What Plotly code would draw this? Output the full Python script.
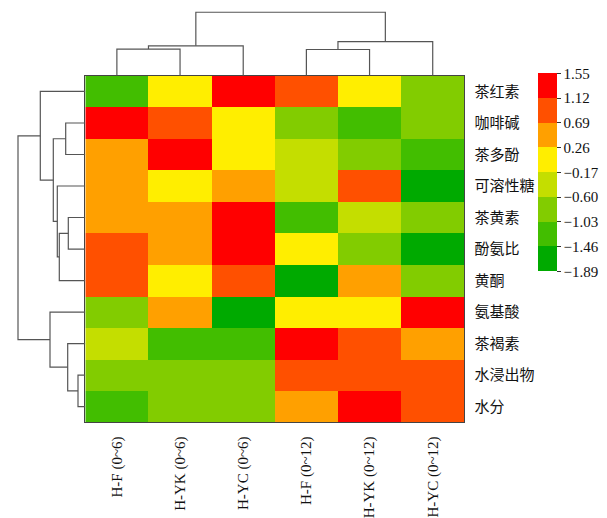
import plotly.graph_objects as go

# Samples (columns) and quality indicators (rows), in displayed order
samples = ["H-F (0~6)", "H-YK (0~6)", "H-YC (0~6)", "H-F (0~12)", "H-YK (0~12)", "H-YC (0~12)"]
indicators = ["茶红素", "咖啡碱", "茶多酚", "可溶性糖", "茶黄素", "酚氨比", "黄酮",
              "氨基酸", "茶褐素", "水浸出物", "水分"]

# Standardised values (rows = indicators, columns = samples)
z_values = [
    [-1.25, 0.05, 1.35, 0.90, 0.10, -0.80],
    [1.40, 0.95, 0.05, -0.85, -1.20, -0.80],
    [0.50, 1.30, 0.00, -0.40, -0.85, -1.25],
    [0.45, 0.05, 0.55, -0.40, 0.90, -1.65],
    [0.50, 0.45, 1.40, -1.20, -0.35, -0.85],
    [0.90, 0.50, 1.35, 0.05, -0.80, -1.70],
    [0.95, 0.10, 0.90, -1.70, 0.50, -0.80],
    [-0.80, 0.50, -1.70, 0.05, 0.10, 1.40],
    [-0.35, -1.20, -1.25, 1.35, 0.95, 0.50],
    [-0.80, -0.85, -0.80, 0.90, 0.95, 0.90],
    [-1.25, -0.80, -0.85, 0.50, 1.35, 0.90],
]

# Colour classes of the legend
bin_edges = [-1.89, -1.46, -1.03, -0.60, -0.17, 0.26, 0.69, 1.12, 1.55]
bin_colors = ["#00AA00", "#42BE00", "#82CC00", "#C4DE00", "#FFEE00", "#FFA000", "#FF5000", "#FF0000"]
edge_labels = ["−1.89", "−1.46", "−1.03", "−0.60", "−0.17", "0.26", "0.69", "1.12", "1.55"]

# Hierarchical clustering results: (child_a, child_b, distance); ids >= n are merged clusters
col_linkage = [(0, 1, 2.67), (6, 2, 3.00), (3, 4, 2.63), (8, 5, 3.43), (7, 9, 6.37)]
row_linkage = [(1, 2, 1.96), (4, 5, 1.70), (12, 6, 2.60), (3, 13, 2.80), (11, 14, 3.20),
               (0, 15, 4.50), (9, 10, 0.73), (8, 17, 1.76), (7, 18, 3.53), (16, 19, 6.73)]


def dendro_segments(linkage, n):
    """Return (leaf-axis coords, height coords) of the U-shaped links."""
    pos = {i: float(i) for i in range(n)}
    hgt = {i: 0.0 for i in range(n)}
    p_list, h_list = [], []
    for k, (a, b, d) in enumerate(linkage):
        p_list += [pos[a], pos[a], pos[b], pos[b], None]
        h_list += [hgt[a], d, d, hgt[b], None]
        pos[n + k] = (pos[a] + pos[b]) / 2
        hgt[n + k] = d
    return p_list, h_list


W, H = 607, 518
hm_left, hm_right, hm_top, hm_bottom = 85.3, 464.3, 76.0, 424.0
px_per_unit = 10.0

n_bins = len(bin_colors)
colorscale = []
for i, c in enumerate(bin_colors):
    colorscale.append([i / n_bins, c])
    colorscale.append([(i + 1) / n_bins, c])

fig = go.Figure()

fig.add_trace(go.Heatmap(
    z=z_values,
    x=list(range(len(samples))),
    y=list(range(len(indicators))),
    zmin=bin_edges[0], zmax=bin_edges[-1],
    colorscale=colorscale,
    xaxis="x", yaxis="y",
    colorbar=dict(
        x=538 / W, xanchor="left", xpad=0,
        y=1 - 173 / H, yanchor="middle", ypad=0,
        len=198, lenmode="pixels", thickness=19, thicknessmode="pixels",
        outlinewidth=0,
        tickmode="array", tickvals=bin_edges, ticktext=edge_labels,
        ticks="outside", ticklen=4, tickwidth=1, tickcolor="#333333",
        tickfont=dict(family="Liberation Serif", size=15, color="#111111"),
    ),
    showscale=True,
))

line_style = dict(color="#555555", width=1.2)

cx, ch = dendro_segments(col_linkage, len(samples))
fig.add_trace(go.Scatter(x=cx, y=ch, mode="lines", line=line_style,
                         xaxis="x", yaxis="y2", hoverinfo="skip", showlegend=False))

ry, rh = dendro_segments(row_linkage, len(indicators))
fig.add_trace(go.Scatter(x=rh, y=ry, mode="lines", line=line_style,
                         xaxis="x2", yaxis="y", hoverinfo="skip", showlegend=False))

fig.update_layout(
    width=W, height=H,
    margin=dict(l=0, r=0, t=0, b=0),
    paper_bgcolor="white", plot_bgcolor="white",
    showlegend=False,
    xaxis=dict(
        domain=[hm_left / W, hm_right / W],
        range=[-0.5, len(samples) - 0.5],
        tickmode="array", tickvals=list(range(len(samples))), ticktext=samples,
        tickangle=-90, ticks="", ticklabelstandoff=7,
        tickfont=dict(family="Liberation Serif", size=15, color="#111111"),
        showgrid=False, zeroline=False,
        showline=True, mirror=True, linecolor="#444444", linewidth=1.2,
        anchor="y",
    ),
    yaxis=dict(
        domain=[1 - hm_bottom / H, 1 - hm_top / H],
        range=[len(indicators) - 0.5, -0.5],
        side="right",
        tickmode="array", tickvals=list(range(len(indicators))), ticktext=indicators,
        ticks="", ticklabelstandoff=6,
        tickfont=dict(family="Noto Sans CJK SC", size=15, color="#111111"),
        showgrid=False, zeroline=False,
        showline=True, mirror=True, linecolor="#444444", linewidth=1.2,
        anchor="x",
    ),
    yaxis2=dict(
        domain=[1 - hm_top / H, 1.0],
        range=[0, hm_top / px_per_unit],
        visible=False, anchor="x",
    ),
    xaxis2=dict(
        domain=[0.0, hm_left / W],
        range=[hm_left / px_per_unit, 0],
        visible=False, anchor="y",
    ),
)

fig.write_html("out.html")
